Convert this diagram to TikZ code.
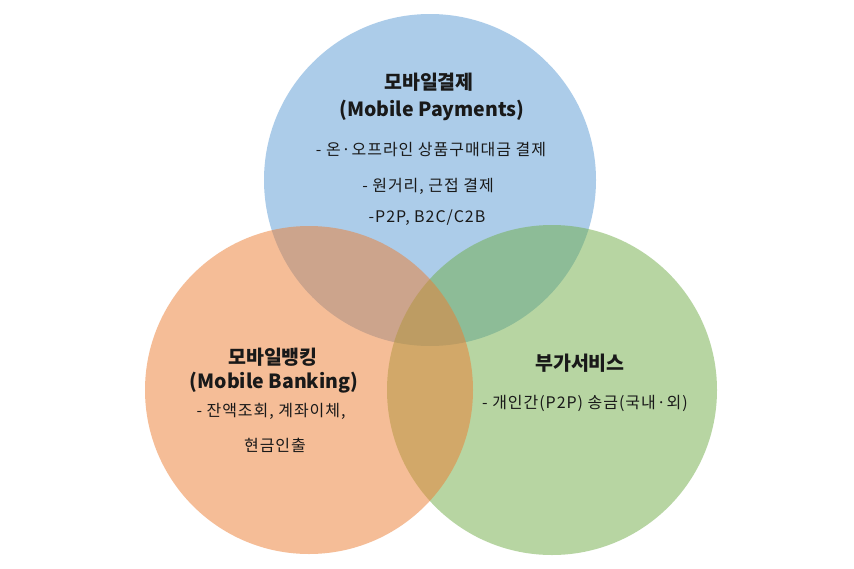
\documentclass[tikz,border=0pt]{standalone}
\usepackage{fontspec}
\setmainfont{Noto Sans CJK KR}
\newfontfamily\widekr[LetterSpace=6]{Noto Sans CJK KR}
\definecolor{payblue}{RGB}{91,155,213}
\definecolor{bankorange}{RGB}{237,125,49}
\definecolor{servgreen}{RGB}{112,173,71}
\definecolor{inktext}{RGB}{25,25,25}

\begin{document}
\begin{tikzpicture}[x=1pt,y=-1pt,
  headtext/.style={inktext,font=\fontsize{19.5}{21}\selectfont\bfseries},
  bodytext/.style={inktext,font=\widekr\fontsize{16}{18}\selectfont}]
\useasboundingbox [fill=white] (0,0) rectangle (854,568);
% three sets
\fill [payblue,fill opacity=0.5] (430,180) circle [radius=166];
\fill [servgreen,fill opacity=0.5] (552,390) circle [radius=165];
\fill [bankorange,fill opacity=0.5] (309,390) circle [radius=164];
% mobile payments
\node (payhead) at (429,82) [headtext] {모바일결제};
\node (payhead2) at (432,110) [headtext] {(Mobile Payments)};
\node (payline1) at (431,150) [bodytext] {- 온·오프라인 상품구매대금 결제};
\node (payline2) at (428,186) [bodytext] {- 원거리, 근접 결제};
\node (payline3) at (427,218) [bodytext] {-P2P, B2C/C2B};
% mobile banking
\node (bankhead) at (273,357) [headtext] {모바일뱅킹};
\node (bankhead2) at (274,383) [headtext] {(Mobile Banking)};
\node (bankline1) at (271,411) [bodytext] {- 잔액조회, 계좌이체,};
\node (bankline2) at (275,445) [bodytext] {현금인출};
% extra services
\node (servhead) at (580,363) [headtext] {부가서비스};
\node (servline1) at (585,403) [bodytext] {- 개인간(P2P) 송금(국내·외)};
\end{tikzpicture}
\end{document}
